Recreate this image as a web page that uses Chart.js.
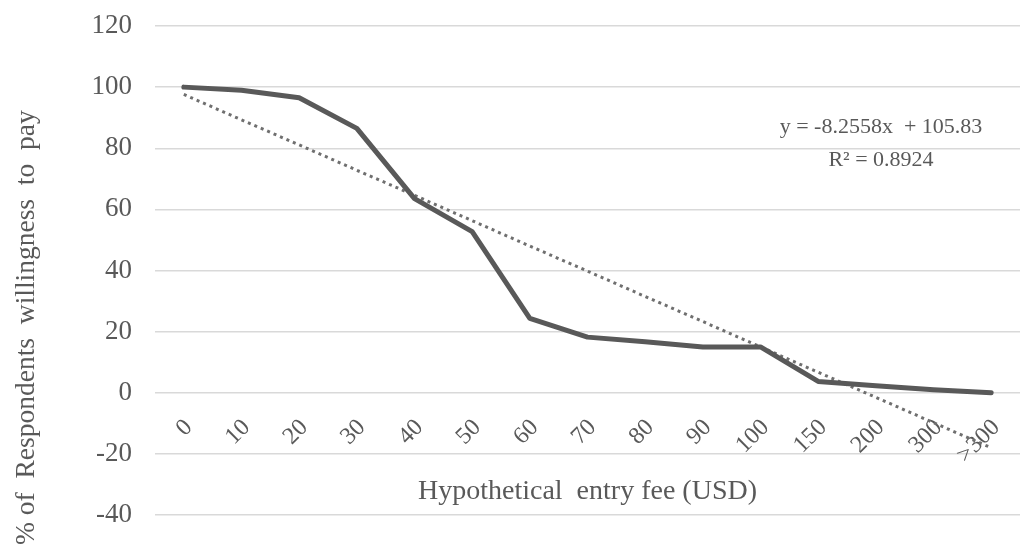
<!DOCTYPE html>
<html>
<head>
<meta charset="utf-8">
<script src="https://cdn.jsdelivr.net/npm/chart.js@4.4.1/dist/chart.umd.min.js"></script>
<style>
  html, body { margin: 0; padding: 0; background: #ffffff; }
  #wrap { width: 1031px; height: 551px; position: relative; }
</style>
</head>
<body>
<div id="wrap"><canvas id="c" width="1031" height="551"></canvas></div>
<script>
// ---- data ----
const categories = ['0', '10', '20', '30', '40', '50', '60', '70', '80', '90', '100', '150', '200', '300', '>300'];
const willingness = [100, 99, 96.5, 86.5, 63.5, 52.7, 24.3, 18.2, 16.7, 15, 15, 3.7, 2.3, 1, 0];
const trendValues = [97.6, 89.3, 81.1, 72.8, 64.6, 56.3, 48.0, 39.8, 31.5, 23.3, 15.0, 6.7, -1.5, -9.8, -18.0];
const yTicks = [-40, -20, 0, 20, 40, 60, 80, 100, 120];
const equationText = 'y = -8.2558x  + 105.83';
const r2Text = 'R² = 0.8924';
const xTitle = 'Hypothetical  entry fee (USD)';
const yTitle = '% of  Respondents  willingness  to  pay';

const FONT = "'Liberation Serif', 'Times New Roman', serif";
const TXT = '#595959';

const textPlugin = {
  id: 'extraText',
  afterDatasetsDraw(chart) {
    const { ctx, chartArea } = chart;
    const ys = chart.scales.y;
    ctx.save();
    ctx.fillStyle = TXT;
    ctx.font = '22px ' + FONT;
    ctx.textAlign = 'center';
    ctx.textBaseline = 'middle';
    const cx = chartArea.right - 139;
    ctx.fillText(equationText, cx, ys.getPixelForValue(87));
    ctx.fillText(r2Text, cx, ys.getPixelForValue(76.2));
    ctx.restore();

    // y-axis title
    ctx.save();
    ctx.fillStyle = TXT;
    ctx.font = '27.5px ' + FONT;
    ctx.textAlign = 'center';
    ctx.textBaseline = 'middle';
    ctx.translate(27, ys.getPixelForValue(21.3));
    ctx.rotate(-Math.PI / 2);
    ctx.fillText(yTitle, 0, 0);
    ctx.restore();
  }
};

new Chart(document.getElementById('c'), {
  type: 'line',
  data: {
    labels: categories,
    datasets: [
      {
        label: 'Willingness',
        data: willingness,
        borderColor: '#595959',
        borderWidth: 5,
        pointRadius: 0,
        tension: 0,
        borderJoinStyle: 'round',
        borderCapStyle: 'round',
        order: 1
      },
      {
        label: 'Linear trend',
        data: trendValues,
        borderColor: '#6f6f6f',
        borderWidth: 3,
        borderDash: [3, 4],
        pointRadius: 0,
        tension: 0,
        order: 2
      }
    ]
  },
  options: {
    responsive: false,
    animation: false,
    layout: { padding: { left: 0, right: 11, top: 26, bottom: 36 } },
    plugins: {
      legend: { display: false },
      tooltip: { enabled: false }
    },
    scales: {
      x: {
        position: { y: 0 },
        offset: true,
        afterFit(scale) {
          scale.paddingLeft = 0; scale.paddingRight = 0;
          scale.paddingTop = 0; scale.paddingBottom = 0;
        },
        grid: { display: false },
        border: { display: false },
        ticks: {
          color: TXT,
          font: { family: FONT, size: 24 },
          minRotation: 45,
          maxRotation: 45,
          padding: 13,
          labelOffset: 5,
          autoSkip: false
        },
        title: {
          display: true,
          text: xTitle,
          color: TXT,
          font: { family: FONT, size: 28 },
          padding: { top: -7, bottom: 0 }
        }
      },
      y: {
        min: -40,
        max: 120,
        afterBuildTicks(scale) { scale.ticks = yTicks.map(v => ({ value: v })); },
        afterFit(scale) {
          scale.width = 155;
          scale.paddingTop = 0; scale.paddingBottom = 0;
        },
        grid: { color: '#d9d9d9', lineWidth: 1.5, drawTicks: false },
        border: { display: false },
        ticks: {
          color: TXT,
          font: { family: FONT, size: 27 },
          padding: 23
        },
        title: { display: false }
      }
    }
  },
  plugins: [textPlugin]
});
</script>
</body>
</html>
